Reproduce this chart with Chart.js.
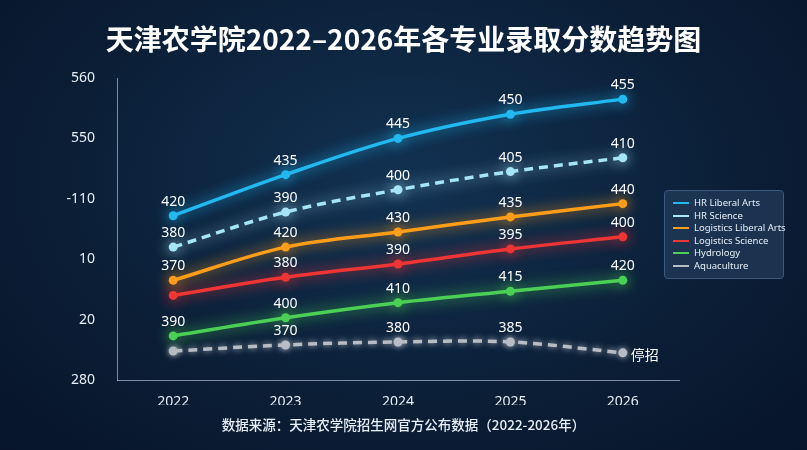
<!DOCTYPE html>
<html><head><meta charset="utf-8">
<script src="https://cdn.jsdelivr.net/npm/chart.js@4"></script>
<style>
body{margin:0;width:807px;height:450px;overflow:hidden;background:radial-gradient(ellipse at 50% 40%,#123252 0%,#0b1e36 60%,#07142a 100%);font-family:"Noto Sans CJK SC","Noto Sans",sans-serif;}
#wrap{position:absolute;left:0;top:0;width:807px;height:450px;}
#title{position:absolute;top:18px;width:807px;text-align:center;color:#fff;font-size:28px;font-weight:bold;}
#src{position:absolute;top:414px;width:807px;text-align:center;color:#e8eef5;font-size:13.5px;font-weight:500;}
#legend{position:absolute;left:664px;top:190px;width:120px;padding:6px 8px;background:rgba(30,55,85,0.85);border:1px solid #3a5a80;border-radius:4px;font-family:"Noto Sans",sans-serif;font-size:9.5px;color:#e6eef7;box-sizing:border-box;}
#legend div{height:12.5px;line-height:12.5px;white-space:nowrap;}
#legend span{display:inline-block;width:16px;height:2px;vertical-align:middle;margin-right:5px;}
</style></head><body>
<div id="wrap"><canvas id="c" width="807" height="450"></canvas></div>
<div id="title">天津农学院2022–2026年各专业录取分数趋势图</div>
<div id="legend"></div>
<div id="src">数据来源：天津农学院招生网官方公布数据（2022-2026年）</div>
<script>
const years = ['2022','2023','2024','2025','2026'];
const yTickLabels = ['280','20','10','-110','550','560'];
const seriesNames = ['HR Liberal Arts','HR Science','Logistics Liberal Arts','Logistics Science','Hydrology','Aquaculture'];
const seriesColors = ['#22b8f0','#a6e4f7','#ff9d1a','#ee3535','#4ccf55','#b8bcc4'];
const seriesDashed = [false,true,false,false,false,true];
// plotted heights (axis units)
const hrLiberal = [2.72,3.4,4.0,4.4,4.65];
const hrScience = [2.2,2.78,3.15,3.45,3.68];
const logLiberal = [1.65,2.2,2.45,2.7,2.92];
const logScience = [1.4,1.7,1.92,2.17,2.37];
const hydrology = [0.73,1.03,1.28,1.47,1.65];
const aquaculture = [0.48,0.58,0.63,0.63,0.45];
// point labels printed in the picture
const hrLiberalLbl = ['420','435','445','450','455'];
const hrScienceLbl = ['380','390','400','405','410'];
const logLiberalLbl = ['370','420','430','435','440'];
const logScienceLbl = ['','380','390','395','400'];
const hydrologyLbl = ['390','400','410','415','420'];
const aquacultureLbl = ['','370','380','385','停招'];

const values = [hrLiberal,hrScience,logLiberal,logScience,hydrology,aquaculture];
const labels = [hrLiberalLbl,hrScienceLbl,logLiberalLbl,logScienceLbl,hydrologyLbl,aquacultureLbl];

document.getElementById('legend').innerHTML = seriesNames.map((n,i)=>
  '<div><span style="background:'+seriesColors[i]+'"></span>'+n+'</div>').join('');

const glow = {
  id:'glow',
  beforeDatasetDraw(chart,args){
    const c=chart.ctx; c.save();
    c.shadowColor=seriesColors[args.index]; c.shadowBlur=args.index===5?6:14;
  },
  afterDatasetDraw(chart){ chart.ctx.restore(); }
};
const pointLabels = {
  id:'pointLabels',
  afterDatasetsDraw(chart){
    const c=chart.ctx; c.save();
    c.font='14px "Noto Sans","Noto Sans CJK SC",sans-serif'; c.fillStyle='#fff'; c.textAlign='center';
    chart.data.datasets.forEach((ds,i)=>{
      chart.getDatasetMeta(i).data.forEach((p,j)=>{
        const t=labels[i][j]; if(!t) return;
        if(t==='停招'){ c.textAlign='left'; c.fillText(t,p.x+8,p.y+7); c.textAlign='center'; }
        else c.fillText(t,p.x,p.y-10);
      });
    });
    c.restore();
  }
};

new Chart(document.getElementById('c'),{
  type:'line',
  data:{labels:years,datasets:values.map((v,i)=>({
    label:seriesNames[i],data:v,borderColor:seriesColors[i],backgroundColor:seriesColors[i],
    borderWidth:3.5,borderDash:seriesDashed[i]?[9,6]:[],tension:0.35,
    pointRadius:4.5,pointBackgroundColor:seriesColors[i],pointBorderWidth:0,clip:false
  }))},
  options:{
    responsive:false,animation:false,
    layout:{padding:{top:78,bottom:45,right:128,left:0}},
    plugins:{legend:{display:false},tooltip:{enabled:false}},
    scales:{
      x:{offset:true,grid:{display:false},border:{color:'rgba(200,215,235,0.6)'},
        afterFit(s){s.height=25;},
        ticks:{color:'#e8eef5',font:{size:14,family:'Noto Sans'},padding:6}},
      y:{min:0,max:5,afterFit(s){s.width=117;},
        grid:{display:false},border:{color:'rgba(200,215,235,0.6)'},
        ticks:{stepSize:1,color:'#e8eef5',font:{size:14,family:'Noto Sans'},padding:14,
          callback:(v)=>yTickLabels[v]}}
    }
  },
  plugins:[glow,pointLabels]
});
</script>
</body></html>
